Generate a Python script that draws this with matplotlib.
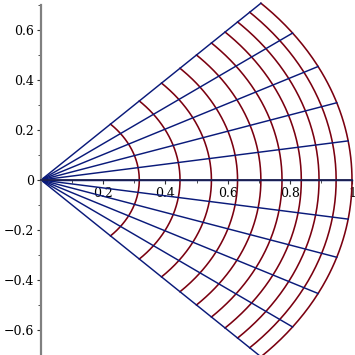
import numpy as np
import matplotlib
matplotlib.use('Agg')
import matplotlib.pyplot as plt
from matplotlib.ticker import MultipleLocator, FuncFormatter

# angles of the radial lines (degrees) and radii of the arcs
angulos = [-45, -36, -27, -18, -9, 0, 9, 18, 27, 36, 45]
raios = [0.316, 0.447, 0.548, 0.632, 0.707, 0.775, 0.837, 0.894, 0.949, 1.0]

x_ticks = [0.2, 0.4, 0.6, 0.8, 1.0]
y_ticks = [-0.6, -0.4, -0.2, 0, 0.2, 0.4, 0.6]

cor_arco = '#7a0010'
cor_raio = '#0a1a7a'

plt.rcParams['font.family'] = ['DejaVu Serif']
fig = plt.figure(figsize=(3.55, 3.55), dpi=100)
ax = fig.add_axes([41/355, 0.0, 311/355, 350/355])

t = np.radians(np.linspace(-45, 45, 200))
for r in raios:
    ax.plot(r*np.cos(t), r*np.sin(t), color=cor_arco, lw=1.15, clip_on=False)

for a in angulos:
    th = np.radians(a)
    ax.plot([0, np.cos(th)], [0, np.sin(th)], color=cor_raio, lw=1.05, clip_on=False)

ax.set_xlim(0, 1)
ax.set_ylim(-0.7, 0.7)

for s in ['top', 'right']:
    ax.spines[s].set_visible(False)
ax.spines['left'].set_position(('data', 0))
ax.spines['bottom'].set_position(('data', 0))
ax.spines['left'].set_color('#808080')
ax.spines['left'].set_linewidth(1.6)
ax.spines['bottom'].set_color('#1c2050')
ax.spines['bottom'].set_linewidth(1.3)

ax.set_xticks(x_ticks)
ax.set_yticks(y_ticks)
ax.xaxis.set_minor_locator(MultipleLocator(0.1))
ax.yaxis.set_minor_locator(MultipleLocator(0.1))

def fmt(v, pos):
    if abs(v) < 1e-9:
        return '0'
    s = ('%.1f' % v).replace('-', '\u2212')
    if s.endswith('.0'):
        s = s[:-2]
    return s

ax.xaxis.set_major_formatter(FuncFormatter(fmt))
ax.yaxis.set_major_formatter(FuncFormatter(fmt))
ax.tick_params(axis='both', which='major', direction='out', length=3, width=0.8,
               labelsize=9, color='#333333', pad=2)
ax.tick_params(axis='both', which='minor', direction='out', length=2, width=0.6,
               color='#333333')

fig.savefig('out.png', dpi=100)
